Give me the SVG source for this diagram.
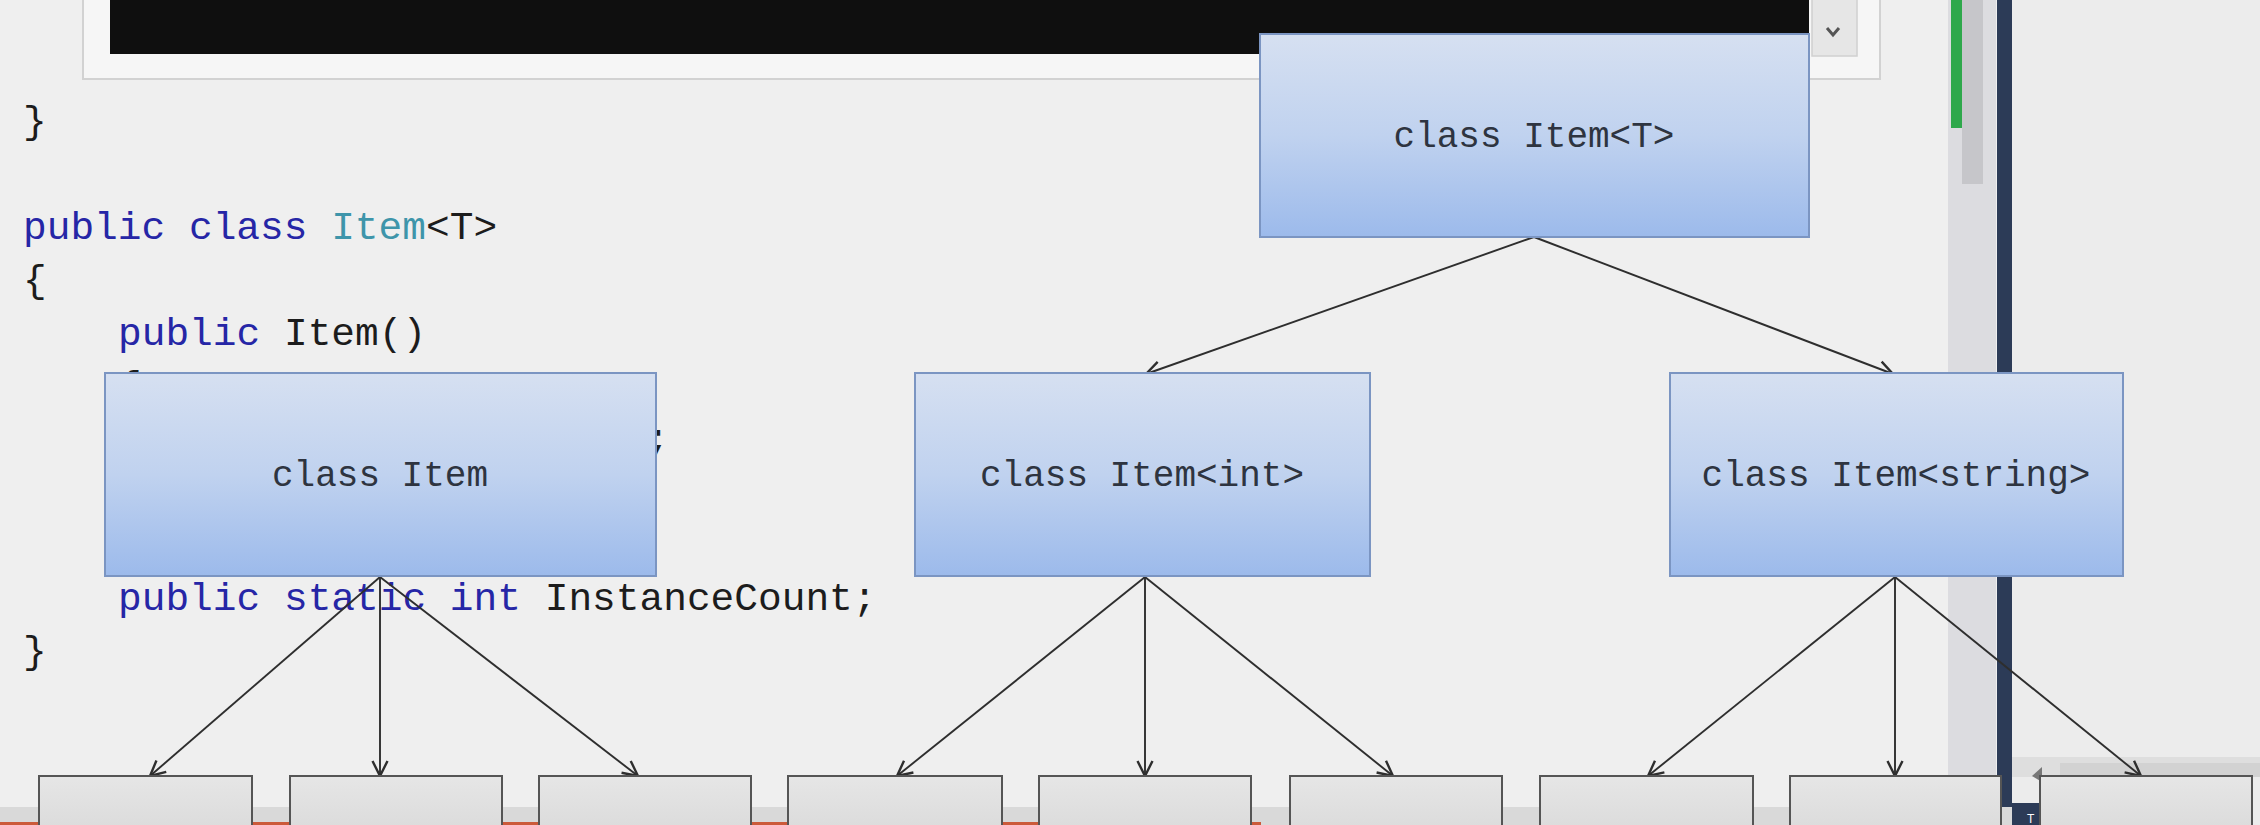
<svg xmlns="http://www.w3.org/2000/svg" width="2260" height="825" viewBox="0 0 2260 825">
<style>
.code{font-family:"Liberation Mono","DejaVu Sans Mono",monospace;font-size:39.5px;fill:#1c1c1c}
.kw{fill:#2626a6}
.ty{fill:#3e95aa}
.lbl{font-family:"Liberation Mono","DejaVu Sans Mono",monospace;font-size:36px;fill:#2e3440;text-anchor:middle}
.bbox{fill:url(#blueGrad);stroke:#7b95c2;stroke-width:2}
.gbox{fill:url(#grayGrad);stroke:#555;stroke-width:2}
.conn{stroke:#2e2e2e;stroke-width:1.9;fill:none;marker-end:url(#arr)}
</style>
<defs>
<linearGradient id="blueGrad" x1="0" y1="0" x2="0" y2="1">
<stop offset="0" stop-color="#d6e0f1"/>
<stop offset="0.5" stop-color="#c0d2ef"/>
<stop offset="1" stop-color="#9cbaeb"/>
</linearGradient>
<linearGradient id="grayGrad" x1="0" y1="0" x2="0" y2="1">
<stop offset="0" stop-color="#e6e6e6"/>
<stop offset="1" stop-color="#d8d8d8"/>
</linearGradient>
<marker id="arr" viewBox="0 0 12 12" refX="11" refY="6" markerWidth="18" markerHeight="18" markerUnits="userSpaceOnUse" orient="auto">
<path d="M1,1 L11,6 L1,11" fill="none" stroke="#2e2e2e" stroke-width="1.6"/>
</marker>
</defs>

<!-- background -->
<rect x="0" y="0" width="2260" height="825" fill="#efefef"/>
<rect x="2012" y="0" width="248" height="825" fill="#ececec"/>

<!-- code panel -->
<rect x="83" y="-5" width="1797" height="84" fill="#f6f6f6" stroke="#d2d2d2" stroke-width="2"/>
<rect x="110" y="0" width="1699" height="54" fill="#0f0f0f"/>
<rect x="1812" y="-5" width="45" height="61" fill="#e6e6e6" stroke="#d0d0d0" stroke-width="1.5"/>
<path d="M1827,28 L1833,35 L1839,28" fill="none" stroke="#555" stroke-width="3"/>

<!-- right scrollbar -->
<rect x="1948" y="0" width="48" height="777" fill="#dcdce0"/>
<rect x="1962" y="0" width="21" height="184" fill="#c6c6ca"/>
<rect x="1951" y="0" width="11" height="128" fill="#2ea84b"/>
<rect x="2012" y="757" width="248" height="20" fill="#dedede"/>
<rect x="2060" y="763" width="200" height="14" fill="#d2d2d2"/>
<rect x="1997" y="0" width="15" height="825" fill="#2c3b57"/>
<rect x="2012" y="803" width="28" height="22" fill="#2c3b57"/>
<text x="2027" y="823" font-family="Liberation Sans, sans-serif" font-size="12" fill="#ffffff">T</text>
<polygon points="2042,767 2032,776 2042,782" fill="#777"/>

<!-- bottom band and progress line -->
<rect x="0" y="807" width="2012" height="18" fill="#d9d9d9"/>
<rect x="0" y="822" width="1261" height="3" fill="#cc5a3a"/>

<!-- code text -->
<g id="code">
<text class="code" x="23" y="133">}</text>
<text class="code" x="23" y="239"><tspan class="kw">public class </tspan><tspan class="ty">Item</tspan>&lt;T&gt;</text>
<text class="code" x="23" y="292">{</text>
<text class="code" x="118" y="345"><tspan class="kw">public </tspan>Item()</text>
<text class="code" x="118" y="398">{</text>
<text class="code" x="646" y="451">;</text>
<text class="code" x="118" y="610"><tspan class="kw">public static int </tspan>InstanceCount;</text>
<text class="code" x="23" y="663">}</text>
</g>

<!-- connectors -->
<g id="connectors">
<line class="conn" x1="1534" y1="237" x2="1146" y2="374"/>
<line class="conn" x1="1534" y1="237" x2="1893" y2="374"/>
<line class="conn" x1="380" y1="577" x2="150" y2="776"/>
<line class="conn" x1="380" y1="577" x2="380" y2="776"/>
<line class="conn" x1="380" y1="577" x2="638" y2="776"/>
<line class="conn" x1="1145" y1="577" x2="897" y2="776"/>
<line class="conn" x1="1145" y1="577" x2="1145" y2="776"/>
<line class="conn" x1="1145" y1="577" x2="1393" y2="776"/>
<line class="conn" x1="1895" y1="577" x2="1648" y2="776"/>
<line class="conn" x1="1895" y1="577" x2="1895" y2="776"/>
<line class="conn" x1="1895" y1="577" x2="2141" y2="776"/>
</g>

<!-- nodes -->
<g id="node-item-t">
<rect class="bbox" x="1260" y="34" width="549" height="203"/>
<text class="lbl" x="1534" y="147">class Item&lt;T&gt;</text>
</g>
<g id="node-item">
<rect class="bbox" x="105" y="373" width="551" height="203"/>
<text class="lbl" x="380" y="486">class Item</text>
</g>
<g id="node-item-int">
<rect class="bbox" x="915" y="373" width="455" height="203"/>
<text class="lbl" x="1142" y="486">class Item&lt;int&gt;</text>
</g>
<g id="node-item-string">
<rect class="bbox" x="1670" y="373" width="453" height="203"/>
<text class="lbl" x="1896" y="486">class Item&lt;string&gt;</text>
</g>

<g id="node-b1"><rect class="gbox" x="39" y="776" width="213" height="70"/></g>
<g id="node-b2"><rect class="gbox" x="290" y="776" width="212" height="70"/></g>
<g id="node-b3"><rect class="gbox" x="539" y="776" width="212" height="70"/></g>
<g id="node-b4"><rect class="gbox" x="788" y="776" width="214" height="70"/></g>
<g id="node-b5"><rect class="gbox" x="1039" y="776" width="212" height="70"/></g>
<g id="node-b6"><rect class="gbox" x="1290" y="776" width="212" height="70"/></g>
<g id="node-b7"><rect class="gbox" x="1540" y="776" width="213" height="70"/></g>
<g id="node-b8"><rect class="gbox" x="1790" y="776" width="211" height="70"/></g>
<g id="node-b9"><rect class="gbox" x="2040" y="776" width="212" height="70"/></g>
</svg>
